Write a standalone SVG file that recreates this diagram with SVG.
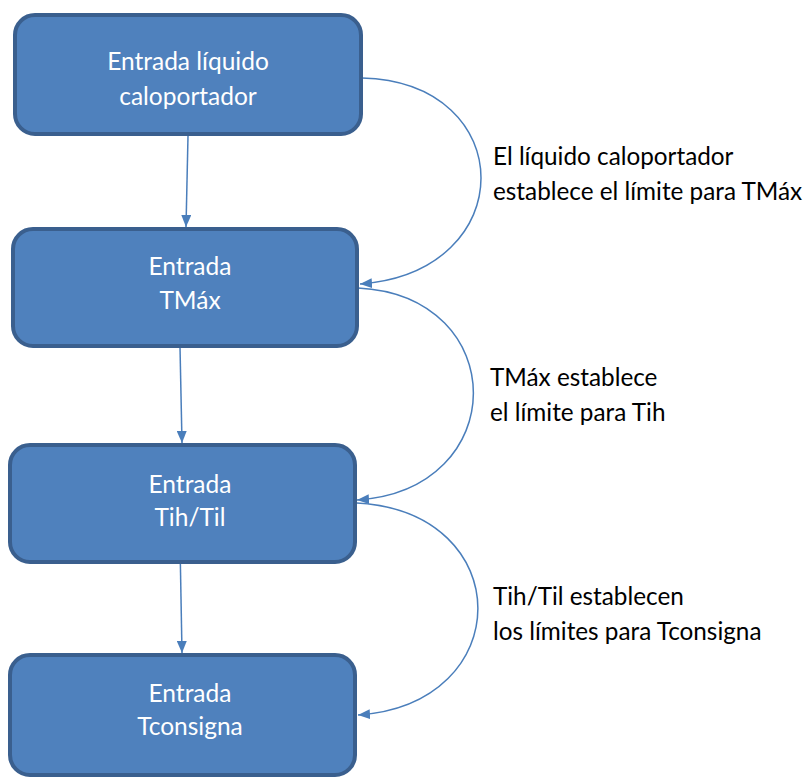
<svg xmlns="http://www.w3.org/2000/svg" width="807" height="778" viewBox="0 0 807 778">
<defs>
<style>
.box{fill:#4f81bd;stroke:#3a5f8e;stroke-width:4}
.bt{font-family:Lato,"Noto Sans",sans-serif;font-size:24.5px;fill:#ffffff;text-anchor:middle}
.lt{font-family:Lato,"Noto Sans",sans-serif;font-size:24.3px;fill:#000000}
.c{fill:none;stroke:#4a7ebb;stroke-width:1.5}
</style>
<marker id="ah" viewBox="0 0 12 10" refX="12" refY="5" markerWidth="12" markerHeight="10" markerUnits="userSpaceOnUse" orient="auto">
<path d="M0,0 L12,5 L0,10 Z" fill="#4a7ebb"/>
</marker>
</defs>
<rect width="807" height="778" fill="#ffffff"/>
<g id="connectors">
<path class="c" d="M188,136 L186,227" marker-end="url(#ah)"/>
<path class="c" d="M180,347 L182,443" marker-end="url(#ah)"/>
<path class="c" d="M180,543 L182,653" marker-end="url(#ah)"/>
<path class="c" d="M362,78 C520,82 522,272 360,284" marker-end="url(#ah)"/>
<path class="c" d="M358,288 C512,296 512,490 357,500" marker-end="url(#ah)"/>
<path class="c" d="M357,503 C518,512 518,704 358,715" marker-end="url(#ah)"/>
</g>
<g id="node1">
<rect class="box" x="15" y="15" width="346" height="119" rx="20"/>
<text class="bt" x="188" y="70">Entrada líquido</text>
<text class="bt" x="188" y="105">caloportador</text>
</g>
<g id="node2">
<rect class="box" x="13" y="229" width="344" height="117" rx="20"/>
<text class="bt" x="190" y="275">Entrada</text>
<text class="bt" x="190" y="309">TMáx</text>
</g>
<g id="node3">
<rect class="box" x="10" y="445" width="345" height="117" rx="20"/>
<text class="bt" x="190" y="493">Entrada</text>
<text class="bt" x="190" y="526">Tih/Til</text>
</g>
<g id="node4">
<rect class="box" x="10" y="655" width="345" height="120" rx="20"/>
<text class="bt" x="190" y="702">Entrada</text>
<text class="bt" x="190" y="735">Tconsigna</text>
</g>
<g id="label1">
<text class="lt" x="493" y="165">El líquido caloportador</text>
<text class="lt" x="493" y="200">establece el límite para TMáx</text>
</g>
<g id="label2">
<text class="lt" x="490" y="386">TMáx establece</text>
<text class="lt" x="490" y="421">el límite para Tih</text>
</g>
<g id="label3">
<text class="lt" x="493" y="605">Tih/Til establecen</text>
<text class="lt" x="493" y="640">los límites para Tconsigna</text>
</g>
</svg>
